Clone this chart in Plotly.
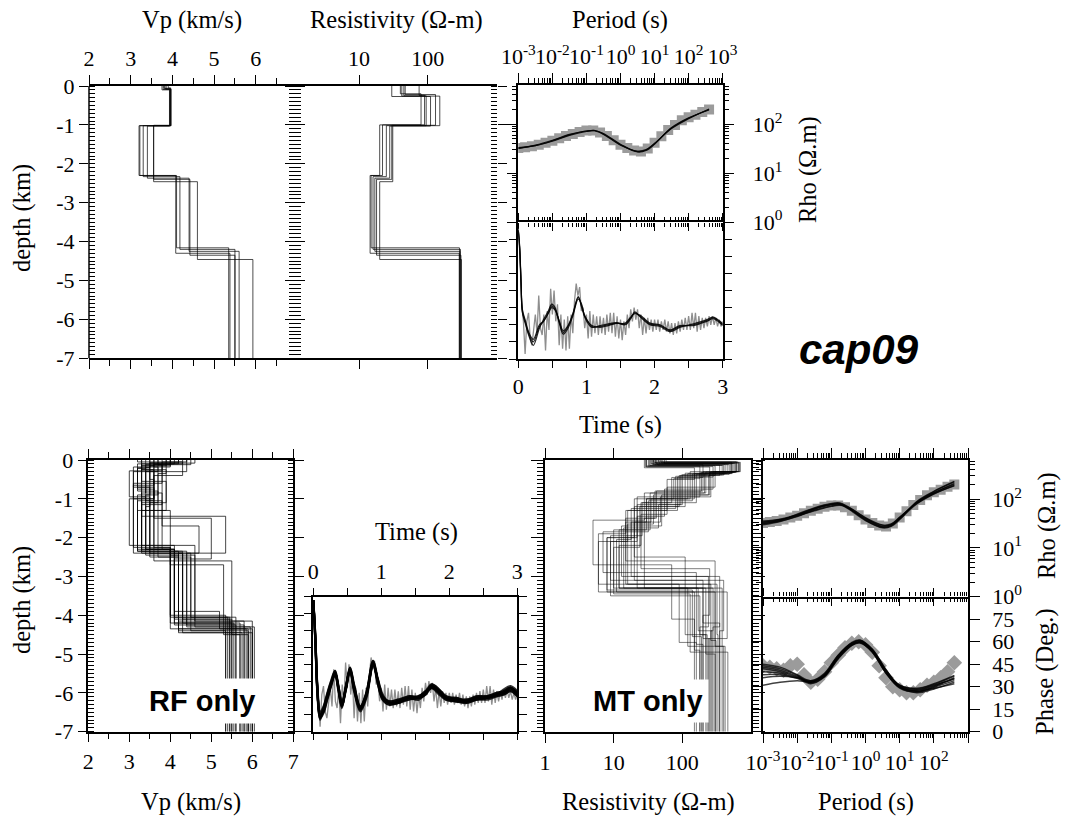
import plotly.graph_objects as go

W, H = 1068, 818

# ---------------- DATA ----------------
# Top row (joint inversion): layered models, interface depths (km) and values
TOP_VP_DEPTHS = [
    [0.06, 1.02, 2.30, 4.16],
    [0.08, 1.02, 2.33, 4.20],
    [0.10, 1.03, 2.37, 4.25],
    [0.05, 1.02, 2.40, 4.35],
    [0.07, 1.01, 2.46, 4.46],
    [0.09, 1.02, 2.30, 4.30],
]
TOP_VP_VALUES = [
    [3.80, 3.95, 3.20, 4.10, 5.35],
    [3.85, 3.97, 3.30, 4.18, 5.50],
    [3.75, 3.93, 3.40, 4.40, 5.60],
    [3.90, 3.96, 3.55, 4.42, 5.50],
    [3.82, 3.94, 3.55, 4.60, 5.93],
    [3.78, 3.95, 3.22, 4.08, 5.38],
]
TOP_RES_DEPTHS = [
    [0.20, 1.00, 2.30, 4.16],
    [0.25, 1.02, 2.33, 4.20],
    [0.27, 1.03, 2.37, 4.25],
    [0.22, 1.01, 2.40, 4.35],
    [0.26, 1.02, 2.46, 4.46],
    [0.24, 1.00, 2.30, 4.30],
]
TOP_RES_VALUES = [
    [40, 80, 22, 15, 290],
    [45, 95, 25, 16, 300],
    [30, 110, 28, 17, 295],
    [47, 130, 30, 18, 305],
    [42, 150, 31, 20, 310],
    [75, 90, 20, 14.5, 288],
]

# Observed MT apparent resistivity / phase (log10 period, log10 rho, degrees)
OBS_LOGT = [-3.0, -2.8, -2.6, -2.4, -2.2, -2.0, -1.8, -1.6, -1.4, -1.2, -1.0, -0.8,
            -0.6, -0.4, -0.2, 0.0, 0.2, 0.4, 0.6, 0.8, 1.0, 1.2, 1.4, 1.6, 1.8, 2.0,
            2.2, 2.4, 2.6]
OBS_LOGRHO = [1.51, 1.53, 1.55, 1.58, 1.62, 1.66, 1.71, 1.76, 1.80, 1.84, 1.87, 1.87,
              1.83, 1.76, 1.67, 1.58, 1.51, 1.46, 1.44, 1.50, 1.62, 1.75, 1.88, 1.98,
              2.08, 2.14, 2.19, 2.25, 2.30]
OBS_PHASE = [44, 43, 42, 41, 44, 45, 38, 33, 35, 40, 46, 51, 56, 59, 60, 58, 53, 44,
             36, 30, 28, 26, 26, 28, 31, 33, 36, 40, 46]

# Model responses: rho (log10) on a coarse period grid
RHO_LOGT = [-3.0, -2.5, -2.0, -1.5, -1.0, -0.75, -0.5, 0.0, 0.5, 0.75, 1.0, 1.5, 2.0, 2.6]
TOP_RHO_MODELS = [
    [1.51, 1.56, 1.66, 1.78, 1.86, 1.87, 1.80, 1.58, 1.44, 1.47, 1.60, 1.92, 2.12, 2.30],
    [1.50, 1.57, 1.67, 1.79, 1.86, 1.86, 1.79, 1.57, 1.45, 1.48, 1.61, 1.91, 2.11, 2.31],
    [1.52, 1.56, 1.65, 1.77, 1.85, 1.87, 1.81, 1.59, 1.43, 1.46, 1.59, 1.93, 2.13, 2.29],
]
BOT_RHO_MODELS = [
    [1.52, 1.57, 1.67, 1.80, 1.89, 1.90, 1.82, 1.58, 1.44, 1.48, 1.62, 1.92, 2.12, 2.32],
    [1.49, 1.55, 1.64, 1.77, 1.86, 1.88, 1.81, 1.60, 1.46, 1.47, 1.59, 1.90, 2.10, 2.28],
    [1.55, 1.59, 1.68, 1.81, 1.90, 1.91, 1.84, 1.61, 1.43, 1.45, 1.60, 1.94, 2.15, 2.35],
    [1.47, 1.54, 1.65, 1.79, 1.88, 1.89, 1.80, 1.56, 1.42, 1.46, 1.61, 1.93, 2.13, 2.30],
    [1.53, 1.58, 1.66, 1.76, 1.85, 1.87, 1.83, 1.62, 1.47, 1.49, 1.63, 1.91, 2.11, 2.27],
    [1.50, 1.56, 1.69, 1.82, 1.91, 1.92, 1.82, 1.57, 1.41, 1.44, 1.58, 1.95, 2.16, 2.36],
]
PHASE_LOGT = [-3.0, -2.5, -2.0, -1.6, -1.2, -0.8, -0.4, -0.15, 0.2, 0.6, 1.0, 1.5, 2.0, 2.6]
PHASE_MODELS = [
    [43, 41, 37, 33, 38, 50, 58.5, 60, 54, 40, 30, 27.5, 30.5, 36],
    [45, 43, 38, 34, 39, 51, 59, 61, 55, 41, 31, 28.5, 31.5, 37],
    [40, 39, 36, 33, 37, 49, 58, 59.5, 53, 39, 29, 26.5, 29.5, 34],
    [36, 37, 36, 34, 38, 49, 57.5, 59, 53.5, 40, 30.5, 28, 31, 35],
    [31, 33, 34, 33.5, 37.5, 50, 58, 60, 54.5, 41, 31, 29, 32, 37.5],
    [44, 42, 37.5, 32.5, 37, 50.5, 59.5, 61, 54, 39.5, 29.5, 26, 28.5, 33],
    [42, 40, 36.5, 33, 38.5, 51, 59, 60.5, 55, 41.5, 30, 27, 30, 35.5],
    [38, 38, 35.5, 32, 36.5, 48.5, 57.5, 59.5, 53, 39, 29.5, 27, 29, 32],
]

# Observed receiver function, sampled every 0.025 s from 0 to 3 s
RF_OBS_DT = 0.025
RF_OBS = [
    0.56, 0.40, 0.12, 0.02, -0.17, 0.02, 0.07, -0.08, -0.12, -0.03,
    0.06, -0.05, 0.17, -0.02, -0.06, 0.06, -0.15, 0.08, -0.03, 0.21,
    0.06, 0.20, 0.02, 0.12, -0.12, 0.06, -0.14, 0.03, -0.15, 0.05,
    -0.14, 0.06, -0.05, 0.14, 0.24, 0.17, 0.22, 0.08, 0.10, -0.02,
    0.06, -0.08, 0.08, -0.07, 0.06, -0.05, 0.05, -0.06, 0.05, -0.05,
    0.04, -0.06, 0.06, -0.04, 0.07, -0.05, 0.07, -0.07, 0.05, -0.08,
    0.03, -0.09, 0.02, -0.06, 0.06, -0.02, 0.09, 0.02, 0.10, 0.03,
    0.09, -0.02, 0.06, -0.06, 0.04, -0.05, 0.04, -0.03, 0.03, -0.04,
    0.03, -0.03, 0.03, -0.04, 0.02, -0.03, 0.03, -0.04, 0.02, -0.05,
    0.01, -0.06, 0.01, -0.05, 0.02, -0.04, 0.03, -0.03, 0.04, -0.03,
    0.05, -0.03, 0.07, -0.02, 0.07, -0.04, 0.05, -0.03, 0.04, -0.02,
    0.04, -0.01, 0.05, 0.00, 0.05, 0.00, 0.04, -0.01, 0.03, -0.01,
    0.02,
]

# Top row model receiver functions
RFT_T = [0.0, 0.02, 0.04, 0.06, 0.10, 0.16, 0.22, 0.31, 0.37, 0.44, 0.49, 0.54, 0.60,
         0.66, 0.73, 0.80, 0.88, 0.93, 0.98, 1.08, 1.20, 1.32, 1.44, 1.57, 1.65, 1.71,
         1.79, 1.93, 2.08, 2.23, 2.37, 2.57, 2.77, 2.86, 2.96, 3.0]
RFT_MODELS = [
    [0.55, 0.45, 0.25, 0.08, 0.02, -0.06, -0.10, -0.01, 0.02, 0.07, 0.11, 0.09, 0.02,
     -0.045, -0.01, 0.06, 0.16, 0.11, 0.05, -0.01, -0.01, 0.00, 0.01, 0.005, 0.04, 0.07,
     0.05, 0.005, -0.005, -0.035, -0.01, 0.0, 0.025, 0.04, 0.015, 0.0],
    [0.55, 0.44, 0.24, 0.07, 0.01, -0.07, -0.12, -0.02, 0.03, 0.08, 0.12, 0.10, 0.01,
     -0.055, -0.02, 0.05, 0.15, 0.12, 0.04, -0.015, -0.005, 0.005, 0.012, 0.0, 0.035, 0.075,
     0.045, 0.0, -0.01, -0.04, -0.015, 0.005, 0.03, 0.045, 0.02, 0.005],
    [0.55, 0.46, 0.26, 0.09, 0.03, -0.05, -0.085, 0.0, 0.02, 0.065, 0.10, 0.085, 0.025,
     -0.035, -0.005, 0.065, 0.165, 0.10, 0.045, -0.005, -0.015, -0.005, 0.008, 0.01, 0.045, 0.065,
     0.055, 0.01, 0.0, -0.03, -0.005, -0.005, 0.02, 0.035, 0.01, -0.005],
]

# Bottom row: RF-only Vp ensemble
RF_VP_DEPTHS = [
    [0.15, 0.95, 2.30, 4.10], [0.10, 1.05, 2.35, 4.20], [0.20, 0.70, 2.25, 4.35],
    [0.05, 0.60, 2.40, 4.05], [0.25, 1.10, 2.50, 4.45], [0.12, 0.85, 2.30, 4.25],
    [0.30, 1.00, 2.20, 4.15], [0.08, 0.50, 2.60, 4.00], [0.18, 0.90, 2.35, 4.30],
    [0.10, 1.30, 2.45, 4.40], [0.22, 0.75, 1.50, 2.55, 4.20], [0.15, 1.20, 2.30, 2.70, 4.50],
    [0.05, 0.40, 1.00, 2.40, 4.10], [0.28, 0.95, 2.30, 3.90, 4.35], [0.12, 0.65, 2.25, 4.05],
    [0.20, 1.05, 1.70, 2.40, 4.25], [0.10, 0.80, 2.50, 4.40], [0.35, 1.10, 2.35, 4.15],
    [0.15, 0.55, 1.30, 2.30, 2.60, 4.50], [0.07, 0.90, 2.45, 4.30], [0.25, 1.00, 2.20, 4.05],
    [0.18, 0.70, 2.40, 4.45], [0.12, 1.15, 2.30, 4.20], [0.30, 0.85, 1.45, 2.40, 4.35],
]
RF_VP_VALUES = [
    [3.9, 3.3, 3.4, 4.1, 5.5], [4.2, 3.6, 3.2, 4.3, 5.7], [3.5, 3.2, 3.6, 4.0, 5.9],
    [4.4, 3.8, 3.1, 4.5, 5.4], [3.3, 3.9, 3.5, 4.2, 6.0], [4.0, 3.4, 3.8, 4.1, 5.6],
    [3.7, 3.1, 3.3, 4.6, 5.8], [4.6, 3.5, 3.6, 4.0, 5.35], [3.6, 3.7, 3.2, 4.4, 6.05],
    [4.1, 3.3, 4.0, 4.2, 5.9], [3.4, 3.2, 3.6, 5.0, 4.1, 5.5], [4.0, 3.5, 3.4, 4.0, 5.3, 5.9],
    [3.2, 4.3, 3.6, 3.3, 4.3, 5.45], [3.8, 3.0, 3.5, 4.1, 5.2, 6.0], [4.5, 3.6, 3.1, 4.0, 5.6],
    [3.5, 3.4, 3.8, 4.7, 4.4, 5.8], [4.3, 3.2, 3.7, 4.5, 5.35], [3.9, 3.7, 3.3, 4.2, 6.0],
    [3.6, 3.3, 3.9, 3.2, 4.0, 5.5, 5.7], [4.2, 3.5, 3.4, 4.6, 5.95], [3.3, 3.6, 3.0, 4.1, 5.45],
    [4.0, 3.1, 3.5, 4.3, 5.75], [3.7, 3.8, 3.3, 4.0, 5.55], [4.4, 3.4, 3.3, 5.35, 4.2, 5.85],
]

# Bottom row: RF-only model receiver functions
RFB_T = [0.0, 0.03, 0.06, 0.10, 0.15, 0.20, 0.26, 0.32, 0.37, 0.42, 0.48, 0.54, 0.60,
         0.69, 0.78, 0.88, 0.95, 1.02, 1.12, 1.25, 1.40, 1.55, 1.65, 1.74, 1.85, 1.95,
         2.10, 2.25, 2.40, 2.55, 2.70, 2.80, 2.90, 3.00]
RFB_MODELS = [
    [0.58, 0.35, 0.05, -0.10, -0.07, 0.00, 0.08, 0.15, 0.06, -0.04, 0.06, 0.17, 0.06, -0.06, 0.02, 0.21, 0.10, 0.00, -0.03, -0.02, 0.00, 0.00, 0.03, 0.07, 0.04, 0.00, -0.01, -0.02, 0.00, 0.00, 0.02, 0.03, 0.05, 0.02],
    [0.58, 0.33, 0.03, -0.12, -0.09, -0.02, 0.07, 0.14, 0.05, -0.05, 0.05, 0.16, 0.05, -0.07, 0.01, 0.20, 0.09, -0.01, -0.04, -0.03, -0.01, 0.00, 0.02, 0.06, 0.03, -0.01, -0.02, -0.03, -0.01, 0.00, 0.01, 0.02, 0.04, 0.01],
    [0.58, 0.37, 0.07, -0.08, -0.05, 0.02, 0.10, 0.16, 0.07, -0.03, 0.07, 0.18, 0.07, -0.05, 0.03, 0.22, 0.11, 0.01, -0.02, -0.01, 0.01, 0.01, 0.04, 0.08, 0.05, 0.01, 0.00, -0.01, 0.01, 0.01, 0.03, 0.04, 0.06, 0.03],
    [0.58, 0.34, 0.04, -0.13, -0.06, 0.01, 0.09, 0.13, 0.04, -0.06, 0.07, 0.16, 0.04, -0.08, 0.00, 0.19, 0.11, 0.02, -0.03, -0.03, 0.00, 0.01, 0.04, 0.06, 0.02, -0.01, -0.02, -0.02, 0.01, 0.01, 0.03, 0.04, 0.06, 0.03],
    [0.58, 0.36, 0.06, -0.09, -0.08, -0.01, 0.07, 0.15, 0.07, -0.03, 0.05, 0.18, 0.08, -0.05, 0.02, 0.20, 0.08, -0.01, -0.04, -0.02, 0.01, 0.00, 0.02, 0.08, 0.05, 0.01, -0.01, -0.03, -0.01, -0.01, 0.01, 0.02, 0.04, 0.01],
    [0.58, 0.35, 0.05, -0.11, -0.08, 0.01, 0.09, 0.16, 0.05, -0.05, 0.06, 0.17, 0.05, -0.06, 0.03, 0.22, 0.09, 0.00, -0.02, -0.01, 0.00, -0.01, 0.03, 0.07, 0.03, 0.00, 0.00, -0.02, 0.00, 0.01, 0.02, 0.05, 0.07, 0.04],
    [0.58, 0.34, 0.04, -0.10, -0.06, 0.00, 0.08, 0.14, 0.06, -0.04, 0.07, 0.17, 0.06, -0.07, 0.01, 0.21, 0.10, 0.01, -0.03, -0.02, -0.01, 0.01, 0.03, 0.06, 0.04, 0.00, -0.01, -0.01, 0.00, 0.00, 0.02, 0.03, 0.05, 0.02],
    [0.58, 0.36, 0.06, -0.12, -0.07, -0.01, 0.08, 0.15, 0.06, -0.04, 0.06, 0.16, 0.07, -0.06, 0.02, 0.20, 0.10, 0.00, -0.03, -0.03, 0.00, 0.00, 0.03, 0.07, 0.04, 0.00, -0.02, -0.02, -0.01, 0.00, 0.02, 0.03, 0.06, 0.02],
]

# Bottom row: MT-only resistivity ensemble (ohm-m)
MT_RES_DEPTHS = [
    [0.10, 0.35, 1.00, 1.80, 3.30, 4.60], [0.05, 0.30, 0.80, 1.50, 2.60, 4.20],
    [0.15, 0.40, 1.20, 2.00, 3.40, 4.90], [0.08, 0.32, 0.90, 1.70, 3.10, 4.40],
    [0.12, 0.45, 1.10, 2.20, 3.30, 4.80], [0.06, 0.30, 0.70, 1.40, 2.80, 4.00],
    [0.20, 0.50, 1.30, 1.90, 3.20, 4.70], [0.10, 0.35, 1.00, 1.60, 3.00, 4.30],
    [0.09, 0.33, 0.95, 2.10, 3.50, 4.50], [0.14, 0.38, 1.15, 1.75, 3.30, 5.00],
    [0.05, 0.31, 0.85, 1.55, 2.70, 4.10], [0.18, 0.42, 1.25, 2.05, 3.40, 4.60],
    [0.07, 0.30, 0.75, 1.45, 3.30, 4.40], [0.11, 0.36, 1.05, 1.85, 2.90, 4.75],
    [0.13, 0.40, 0.90, 1.65, 3.20, 4.50], [0.06, 0.34, 1.20, 2.25, 3.45, 4.95],
    [0.16, 0.48, 1.00, 1.70, 3.00, 4.30], [0.09, 0.32, 0.80, 1.50, 3.30, 4.60],
    [0.12, 0.37, 1.10, 1.95, 3.10, 4.20], [0.08, 0.30, 0.95, 1.60, 2.50, 4.50],
    [0.17, 0.44, 1.30, 2.10, 3.40, 4.80], [0.10, 0.35, 0.85, 1.80, 3.30, 4.40],
    [0.05, 0.30, 1.00, 1.60, 3.20, 4.65], [0.14, 0.39, 1.15, 2.00, 3.35, 4.55],
]
MT_RES_VALUES = [
    [35, 500, 150, 30, 10, 200, 250], [45, 650, 200, 40, 15, 300, 300],
    [30, 300, 90, 20, 8, 150, 180], [50, 600, 250, 50, 20, 400, 350],
    [40, 200, 70, 25, 12, 120, 420], [38, 700, 300, 60, 25, 250, 200],
    [28, 150, 60, 15, 6, 90, 160], [42, 450, 120, 35, 18, 350, 280],
    [55, 550, 180, 22, 9, 180, 230], [33, 380, 100, 45, 14, 220, 300],
    [48, 620, 220, 28, 5, 70, 150], [30, 250, 80, 18, 11, 450, 380],
    [40, 680, 280, 55, 22, 280, 260], [36, 420, 140, 32, 7, 160, 200],
    [44, 350, 240, 38, 16, 320, 330], [52, 520, 110, 24, 10, 130, 460],
    [32, 180, 75, 20, 13, 240, 180], [46, 580, 190, 42, 28, 380, 240],
    [38, 480, 160, 26, 9, 200, 350], [41, 660, 260, 48, 20, 110, 220],
    [29, 280, 85, 16, 6, 300, 400], [37, 530, 210, 34, 12, 170, 270],
    [58, 610, 130, 30, 15, 260, 310], [34, 400, 95, 22, 8, 140, 190],
]

DEPTH_TICKS = [0, -1, -2, -3, -4, -5, -6, -7]
DEPTH_LABELS = ['0', '-1', '-2', '-3', '-4', '-5', '-6', '-7']
PERIOD_TICKS = [1e-3, 1e-2, 1e-1, 1e0, 1e1, 1e2, 1e3]
PERIOD_LABELS = ['10<sup>-3</sup>', '10<sup>-2</sup>', '10<sup>-1</sup>', '10<sup>0</sup>',
                 '10<sup>1</sup>', '10<sup>2</sup>', '10<sup>3</sup>']
RHO_TICKS = [1, 10, 100]
RHO_LABELS = ['10<sup>0</sup>', '10<sup>1</sup>', '10<sup>2</sup>']
PHASE_TICKS = [0, 15, 30, 45, 60, 75]

# ---------------- HELPERS ----------------
SERIF = 'Liberation Serif'
SANS = 'Liberation Sans'
TICKFONT = dict(family=SERIF, size=22, color='black')
PERIOD_MINOR = [k * 10.0 ** e for e in range(-3, 3) for k in range(2, 10)]


def dx(a, b):
    return [a / W, b / W]


def dy(top, bot):
    return [1 - bot / H, 1 - top / H]


def step_xy(depths, values, zmax=7.0):
    xs, ys = [], []
    tops = [0.0] + list(depths)
    bots = list(depths) + [zmax]
    for v, t, b in zip(values, tops, bots):
        xs += [v, v]
        ys += [-t, -b]
    return xs, ys


def axis(**kw):
    base = dict(showgrid=False, zeroline=False, ticks='outside', tickcolor='black',
                tickwidth=1.3, linecolor='black', linewidth=1.5, tickfont=TICKFONT,
                tickangle=0, mirror='ticks', showline=True, automargin=False)
    base.update(kw)
    return base


def period_axis(ticklen=10, minorlen=5, **kw):
    return axis(type='log', range=[-3, 3], tickmode='array', tickvals=PERIOD_TICKS,
                ticklen=ticklen,
                minor=dict(tickmode='array', tickvals=PERIOD_MINOR, ticks='outside',
                           ticklen=minorlen, tickcolor='black', tickwidth=1), **kw)


def tick_only_period(overlay, side, anchor):
    # extra tick row on the shared border between the two stacked MT panels
    return period_axis(ticklen=8, minorlen=4, overlaying=overlay, side=side, anchor=anchor,
                       showticklabels=False, showline=False, mirror=False)


fig = go.Figure()


def add_line(x, y, xa, ya, color='black', width=1.0, shape='linear'):
    fig.add_trace(go.Scatter(x=x, y=y, xaxis=xa, yaxis=ya, mode='lines',
                             line=dict(color=color, width=width, shape=shape),
                             hoverinfo='skip', showlegend=False))


# ---- top row traces ----
for d, v in zip(TOP_VP_DEPTHS, TOP_VP_VALUES):
    xs, ys = step_xy(d, v)
    add_line(xs, ys, 'x', 'y', 'rgba(0,0,0,0.7)', 1.0)
for d, v in zip(TOP_RES_DEPTHS, TOP_RES_VALUES):
    xs, ys = step_xy(d, v)
    add_line(xs, ys, 'x2', 'y2', 'rgba(0,0,0,0.7)', 1.0)

obs_T = [10 ** p for p in OBS_LOGT]
obs_R = [10 ** r for r in OBS_LOGRHO]
fig.add_trace(go.Scatter(x=obs_T, y=obs_R, xaxis='x3', yaxis='y3', mode='markers',
                         marker=dict(symbol='square', size=10, color='#9b9b9b'),
                         hoverinfo='skip', showlegend=False))
for m in TOP_RHO_MODELS:
    add_line([10 ** p for p in RHO_LOGT], [10 ** r for r in m], 'x3', 'y3',
             'rgba(0,0,0,0.85)', 1.2, 'spline')

rf_t = [i * RF_OBS_DT for i in range(len(RF_OBS))]
add_line(rf_t, RF_OBS, 'x4', 'y4', '#8e8e8e', 1.3)
for m in RFT_MODELS:
    add_line(RFT_T, m, 'x4', 'y4', 'rgba(0,0,0,0.85)', 1.2, 'spline')

# ---- bottom row traces ----
for d, v in zip(RF_VP_DEPTHS, RF_VP_VALUES):
    xs, ys = step_xy(d, v)
    add_line(xs, ys, 'x5', 'y5', 'rgba(0,0,0,0.72)', 1.0)

add_line(rf_t, RF_OBS, 'x6', 'y6', '#8e8e8e', 1.3)
for m in RFB_MODELS:
    add_line(RFB_T, m, 'x6', 'y6', 'rgba(0,0,0,0.8)', 2.2, 'spline')

for d, v in zip(MT_RES_DEPTHS, MT_RES_VALUES):
    xs, ys = step_xy(d, v)
    add_line(xs, ys, 'x7', 'y7', 'rgba(0,0,0,0.5)', 1.0)

fig.add_trace(go.Scatter(x=obs_T, y=obs_R, xaxis='x8', yaxis='y8', mode='markers',
                         marker=dict(symbol='square', size=10, color='#9b9b9b'),
                         hoverinfo='skip', showlegend=False))
for m in BOT_RHO_MODELS:
    add_line([10 ** p for p in RHO_LOGT], [10 ** r for r in m], 'x8', 'y8',
             'rgba(0,0,0,0.75)', 1.4, 'spline')

fig.add_trace(go.Scatter(x=obs_T, y=OBS_PHASE, xaxis='x9', yaxis='y9', mode='markers',
                         marker=dict(symbol='diamond', size=12, color='#9b9b9b'),
                         hoverinfo='skip', showlegend=False))
for m in PHASE_MODELS:
    add_line([10 ** p for p in PHASE_LOGT], m, 'x9', 'y9', 'rgba(0,0,0,0.75)', 1.4, 'spline')

# empty traces so the tick-only overlay axes get drawn
for xa, ya in (('x10', 'y3'), ('x13', 'y4'), ('x11', 'y8'), ('x12', 'y9')):
    fig.add_trace(go.Scatter(x=[None], y=[None], xaxis=xa, yaxis=ya, mode='lines',
                             hoverinfo='skip', showlegend=False))

# ---------------- AXES ----------------
TOP_D = dy(86, 358.3)
BOT_D = dy(460, 731.7)
depth_common = dict(range=[-7, 0], tickvals=DEPTH_TICKS, ticktext=DEPTH_LABELS, ticklen=9,
                    minor=dict(dtick=0.1, tick0=0, ticks='inside', ticklen=6,
                               tickcolor='black', tickwidth=1))

layout = dict(
    width=W, height=H, margin=dict(l=0, r=0, t=0, b=0, pad=0), autosize=False,
    paper_bgcolor='white', plot_bgcolor='rgba(0,0,0,0)', showlegend=False,
    # top Vp
    xaxis=axis(domain=dx(89, 295), range=[2, 2 + 206 / 41.7], side='top', anchor='y',
               tickvals=[2, 3, 4, 5, 6], ticklen=9,
               minor=dict(tickvals=[2.5, 3.5, 4.5, 5.5, 6.5], ticks='outside', ticklen=6,
                          tickcolor='black', tickwidth=1.3)),
    yaxis=axis(domain=TOP_D, anchor='x', showline=False, **depth_common),
    # top resistivity
    xaxis2=axis(domain=dx(295, 497), type='log', range=[0.068, 3.009], side='top', anchor='y2',
                tickvals=[10, 100], ticktext=['10', '100'], ticklen=9),
    yaxis2=axis(domain=TOP_D, anchor='x2', showline=False, showticklabels=False,
                **depth_common),
    # top rho
    xaxis3=period_axis(domain=dx(518.3, 722.7), side='top', anchor='y3',
                       ticktext=PERIOD_LABELS, mirror=False),
    xaxis10=tick_only_period('x3', 'bottom', 'y3'),
    yaxis3=axis(domain=dy(85, 222), type='log', range=[0, 2.8], side='right', anchor='x3',
                tickvals=RHO_TICKS, ticktext=RHO_LABELS, ticklen=10, ticklabelstandoff=14,
                minor=dict(dtick='D1', ticks='outside', ticklen=5, tickcolor='black', tickwidth=1)),
    # top RF
    xaxis4=axis(domain=dx(518.3, 722.7), range=[0, 3], side='bottom', anchor='y4',
                tickvals=[0, 1, 2, 3], ticklen=7,
                minor=dict(tickmode='array', tickvals=[0.5, 1.5, 2.5], ticks='outside',
                           ticklen=7, tickcolor='black', tickwidth=1.3)),
    xaxis13=tick_only_period('x4', 'top', 'y4'),
    yaxis4=axis(domain=dy(222, 359), range=[-0.2, 0.6], anchor='x4', dtick=0.1, tick0=0,
                showticklabels=False, ticklen=8),
    # bottom Vp
    xaxis5=axis(domain=dx(88.3, 293.3), range=[2, 7], side='bottom', anchor='y5',
                tickvals=[2, 3, 4, 5, 6, 7], ticklen=9,
                minor=dict(tickvals=[2.5, 3.5, 4.5, 5.5, 6.5], ticks='outside', ticklen=6,
                           tickcolor='black', tickwidth=1.3)),
    yaxis5=axis(domain=BOT_D, anchor='x5', **depth_common),
    # bottom RF
    xaxis6=axis(domain=dx(313.3, 517.3), range=[0, 3], side='top', anchor='y6',
                tickvals=[0, 1, 2, 3], ticklen=7,
                minor=dict(tickmode='array', tickvals=[0.5, 1.5, 2.5], ticks='outside',
                           ticklen=7, tickcolor='black', tickwidth=1.3)),
    yaxis6=axis(domain=dy(596.7, 731.7), range=[-0.2, 0.6], anchor='x6', dtick=0.1, tick0=0,
                showticklabels=False, ticklen=8),
    # bottom MT resistivity
    xaxis7=axis(domain=dx(545, 751), type='log', range=[0, 3], side='bottom', anchor='y7',
                tickvals=[1, 10, 100], ticktext=['1', '10', '100'], ticklen=10),
    yaxis7=axis(domain=BOT_D, anchor='x7', showticklabels=False, range=[-7, 0],
                tickvals=DEPTH_TICKS, ticklen=12,
                minor=dict(dtick=0.1, tick0=0, ticks='outside', ticklen=6,
                           tickcolor='black', tickwidth=1)),
    # bottom rho
    xaxis8=period_axis(domain=dx(763, 968), side='top', anchor='y8', showticklabels=False,
                       mirror=False),
    xaxis11=period_axis(ticklen=8, minorlen=4, overlaying='x8', side='bottom', anchor='y8',
                        showticklabels=False, showline=True, mirror=False),
    yaxis8=axis(domain=dy(460, 596.7), type='log', range=[0, 2.8], side='right', anchor='x8',
                tickvals=RHO_TICKS, ticktext=RHO_LABELS, ticklen=10, ticklabelstandoff=8,
                minor=dict(dtick='D1', ticks='outside', ticklen=5, tickcolor='black', tickwidth=1)),
    # bottom phase
    xaxis9=period_axis(domain=dx(763, 968), side='bottom', anchor='y9',
                       ticktext=PERIOD_LABELS[:-1] + [''], mirror=False),
    xaxis12=tick_only_period('x9', 'top', 'y9'),
    yaxis9=axis(domain=dy(596.7, 731.7), range=[0, 90], side='right', anchor='x9',
                tickvals=PHASE_TICKS, ticklen=10, ticklabelstandoff=8),
)
fig.update_layout(**layout)

# frame line at left of top Vp panel
fig.add_shape(type='line', xref='paper', yref='paper', x0=89 / W, x1=89 / W,
              y0=1 - 358.3 / H, y1=1 - 86 / H, line=dict(color='black', width=1.5))


def ann(text, x, y, size=24.5, angle=0, family=SERIF, **kw):
    fig.add_annotation(text=text, x=x / W, y=1 - y / H, xref='paper', yref='paper',
                       showarrow=False, textangle=angle, xanchor='center', yanchor='middle',
                       font=dict(family=family, size=size, color='black',
                                 weight=kw.pop('weight', 'normal'),
                                 style=kw.pop('style', 'normal')), **kw)


ann('Vp (km/s)', 192, 20)
ann('Resistivity (Ω-m)', 396, 20)
ann('Period (s)', 620, 20)
ann('depth (km)', 22, 218, angle=-90)
ann('Rho (Ω.m)', 808, 170, angle=-90)
ann('Time (s)', 620, 425)
ann('cap09', 859, 350, size=42, family=SANS, weight='bold', style='italic')
ann('Time (s)', 416, 532)
ann('depth (km)', 22, 600, angle=-90)
ann('Vp (km/s)', 191, 802)
ann('Resistivity (Ω-m)', 648, 802)
ann('Period (s)', 866, 802)
ann('Rho (Ω.m)', 1047, 526, angle=-90)
ann('Phase (Deg.)', 1045, 672, angle=-90)
ann('RF only', 202, 701, size=29, family=SANS, weight='bold', bgcolor='white', borderpad=6)
ann('MT only', 648, 701, size=29, family=SANS, weight='bold', bgcolor='white', borderpad=5)

fig.write_html('out.html', config={'displayModeBar': False},
               post_script="document.body.style.margin='0px';")
